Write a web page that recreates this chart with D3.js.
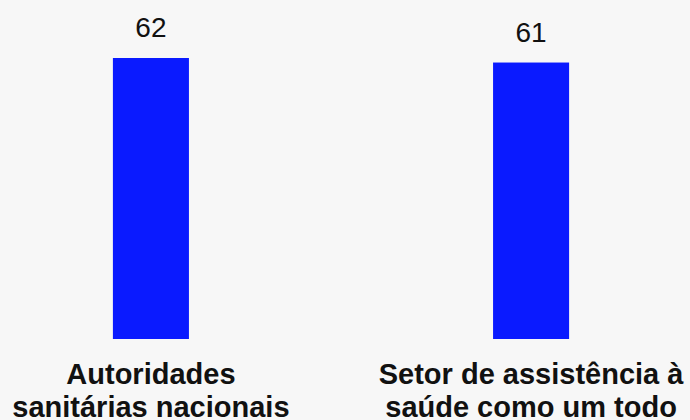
<!DOCTYPE html>
<html>
<head>
<meta charset="utf-8">
<script src="https://cdn.jsdelivr.net/npm/d3@7"></script>
<style>
  html, body { margin: 0; padding: 0; background: #f7f7f7; }
  svg { display: block; }
</style>
</head>
<body>
<div id="chart"></div>
<script>
// data
const categories = ["Autoridades sanitárias nacionais", "Setor de assistência à saúde como um todo"];
const labelLines = [["Autoridades", "sanitárias nacionais"], ["Setor de assistência à", "saúde como um todo"]];
const values = [62, 61];

const w = 690;
const h = 420;
const barColor = "#0a1aff";

const svg = d3.select("#chart").append("svg")
  .attr("width", w)
  .attr("height", h);

// scales
const xScale = d3.scaleBand()
  .domain(categories)
  .range([0, 682])
  .paddingInner(0.8)
  .paddingOuter(0.297);

const yScale = d3.scaleLinear()
  .domain([0, 62])
  .range([339, 58]);

// bars
svg.selectAll("rect.bar")
  .data(values)
  .enter()
  .append("rect")
  .attr("class", "bar")
  .attr("x", (d, i) => xScale(categories[i]))
  .attr("y", d => yScale(d))
  .attr("width", xScale.bandwidth())
  .attr("height", d => yScale(0) - yScale(d))
  .style("fill", barColor);

// value labels
svg.selectAll("text.value")
  .data(values)
  .enter()
  .append("text")
  .attr("class", "value")
  .attr("x", (d, i) => xScale(categories[i]) + xScale.bandwidth() / 2)
  .attr("y", d => yScale(d) - 21)
  .attr("text-anchor", "middle")
  .style("font-family", "'Liberation Sans', Arial, sans-serif")
  .style("font-size", "28px")
  .style("fill", "#111")
  .text(d => d);

// category labels
const catGroup = svg.selectAll("text.cat")
  .data(categories)
  .enter()
  .append("text")
  .attr("class", "cat")
  .attr("text-anchor", "middle")
  .style("font-family", "'Liberation Sans', Arial, sans-serif")
  .style("font-size", "29px")
  .style("font-weight", "bold")
  .style("fill", "#111");

catGroup.selectAll("tspan")
  .data((d, i) => labelLines[i].map(t => ({ t, c: d })))
  .enter()
  .append("tspan")
  .attr("x", d => xScale(d.c) + xScale.bandwidth() / 2)
  .attr("y", (d, j) => 383.5 + j * 33)
  .text(d => d.t);
</script>
</body>
</html>
